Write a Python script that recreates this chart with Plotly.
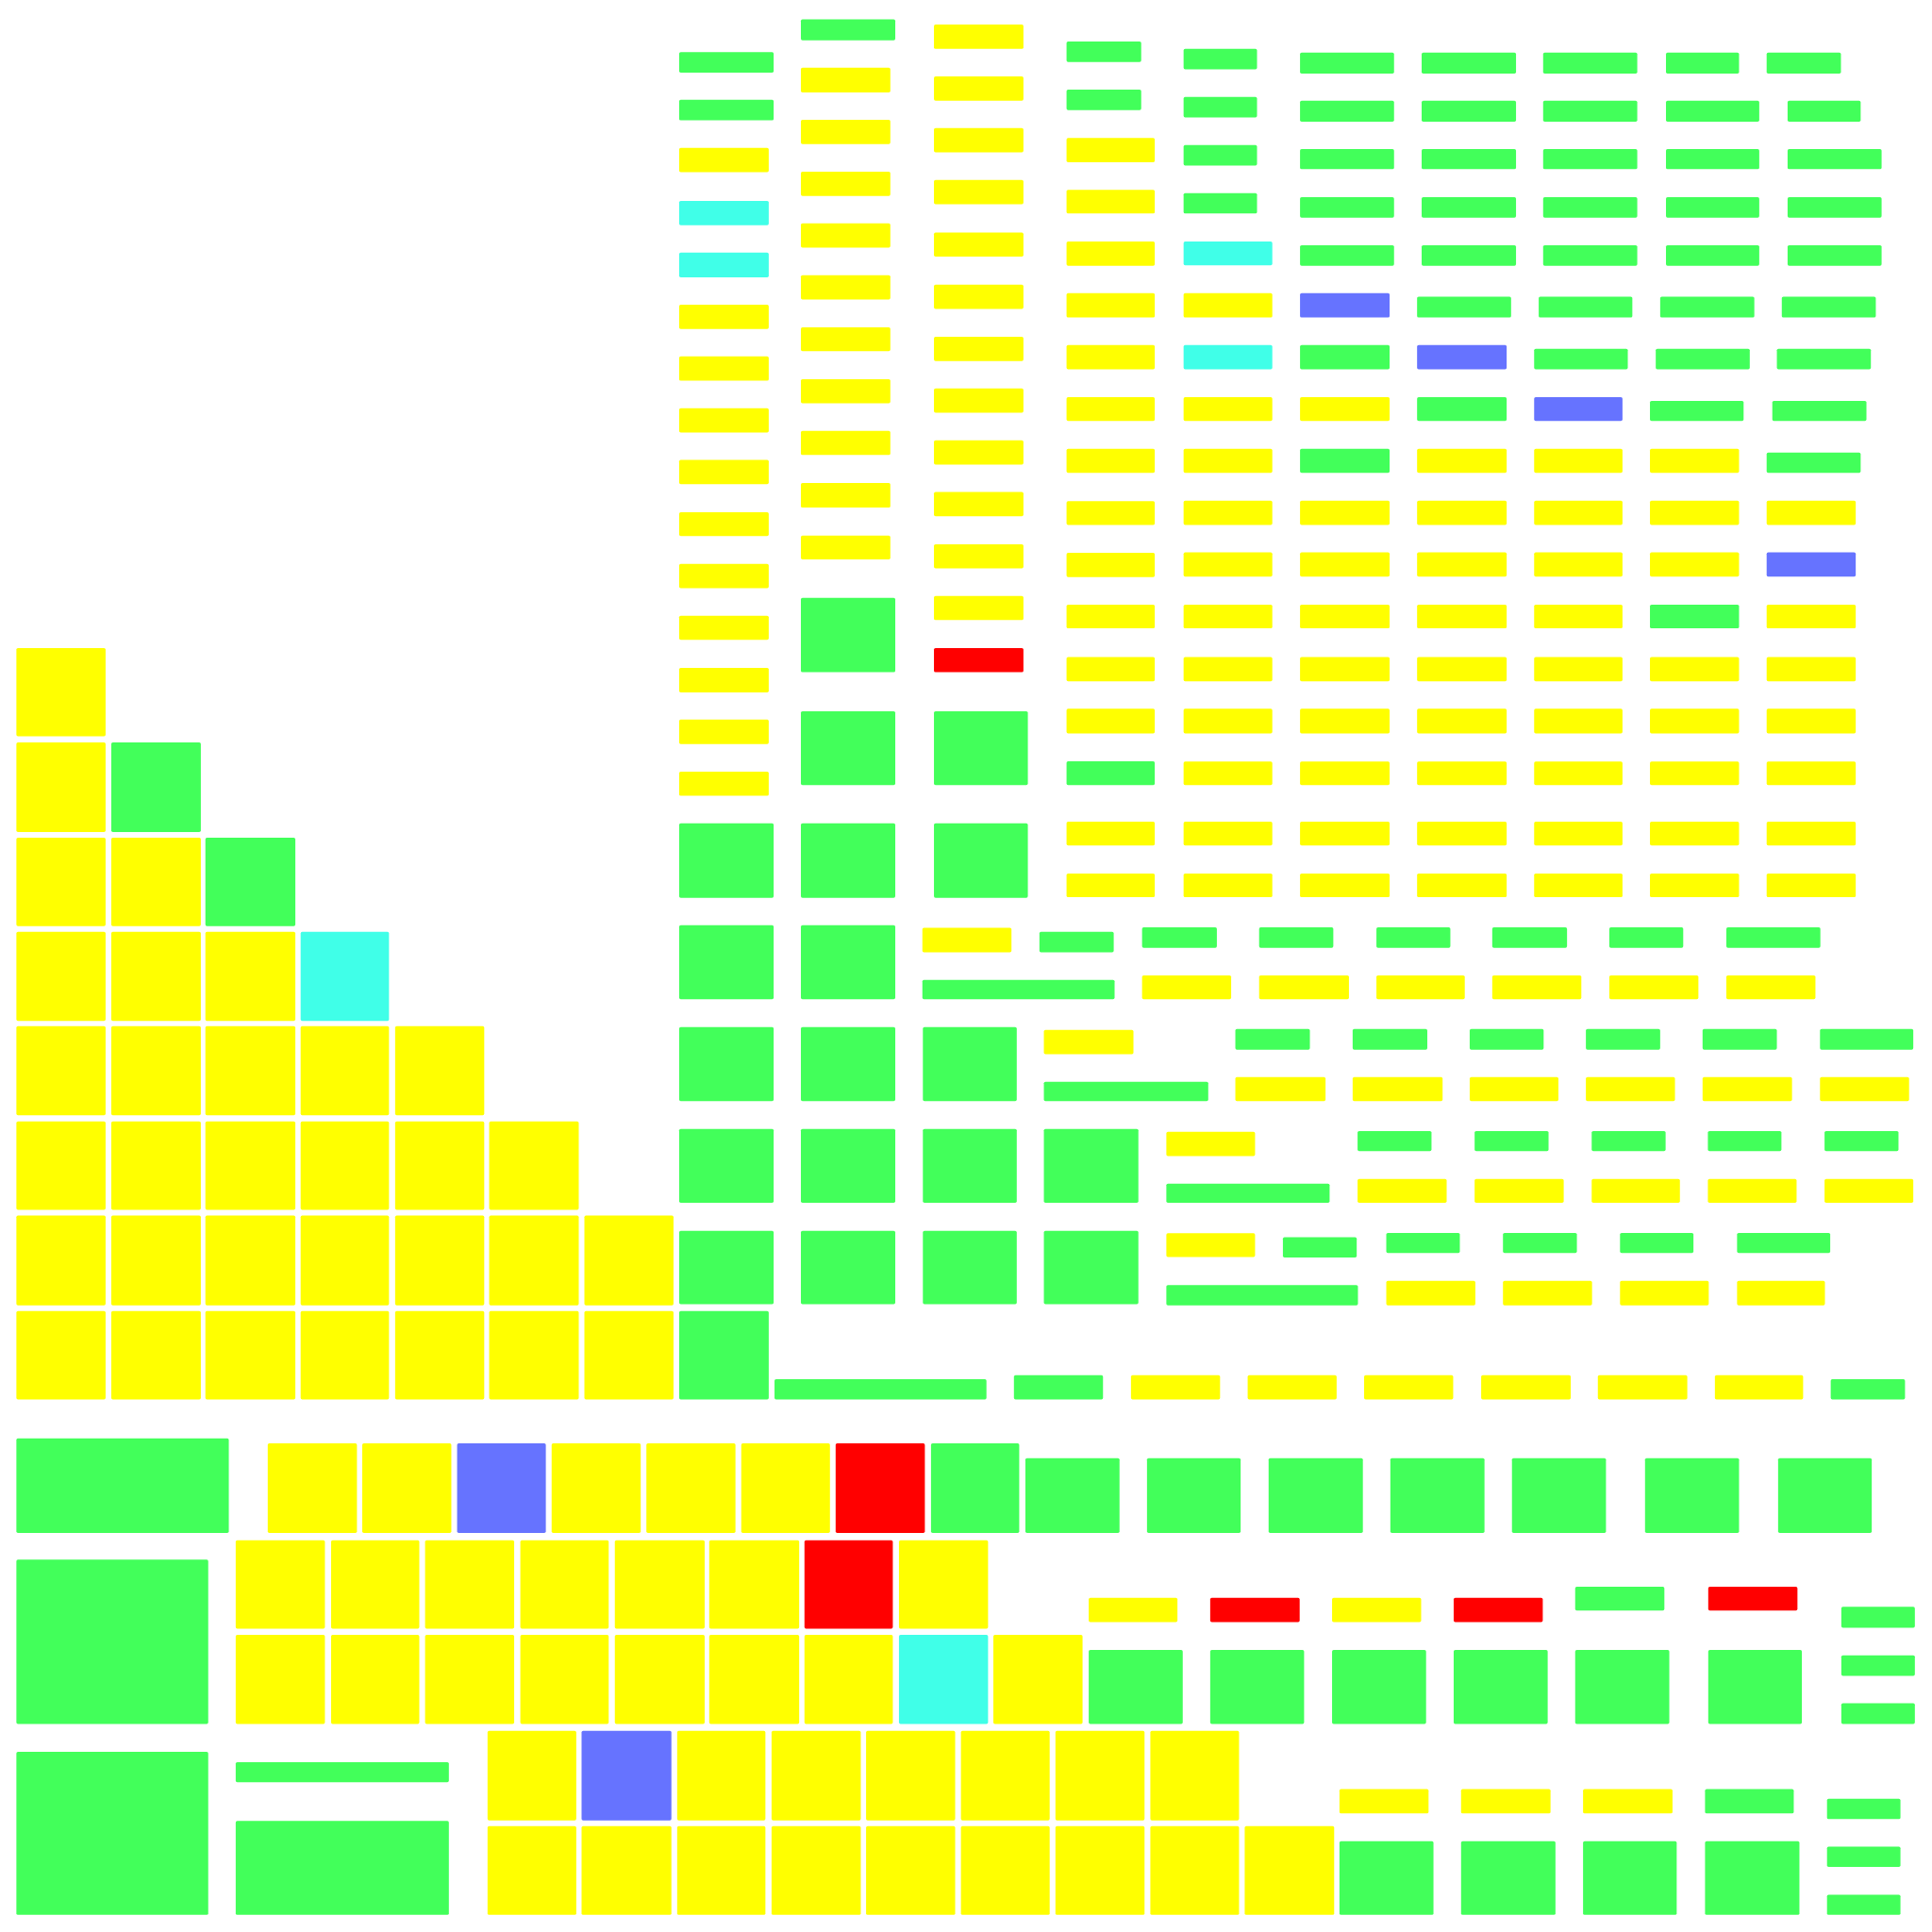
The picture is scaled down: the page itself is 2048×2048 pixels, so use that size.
import plotly.graph_objects as go

# colour categories
COLORS = {'Y': '#ffff00', 'G': '#42ff5a', 'C': '#40ffe8', 'B': '#6673ff', 'R': '#ff0000'}

# ---------- top region: columns of bars (x0, x1, y0, y1, category) ----------
top_col1 = [(551.2, 627.9, 42.3, 59.0, 'G'), (551.2, 627.9, 81.0, 97.7, 'G'),
            (551.2, 623.9, 120.0, 139.7, 'Y'), (551.2, 623.9, 163.0, 182.7, 'C'),
            (551.2, 623.9, 205.0, 225.0, 'C'), (551.2, 623.9, 247.3, 267.0, 'Y'),
            (551.2, 623.9, 289.3, 309.0, 'Y'), (551.2, 623.9, 331.3, 351.0, 'Y'),
            (551.2, 623.9, 373.3, 393.0, 'Y'), (551.2, 623.9, 415.7, 435.0, 'Y'),
            (551.2, 623.9, 457.7, 477.3, 'Y'), (551.2, 623.9, 499.7, 519.3, 'Y'),
            (551.2, 623.9, 542.0, 561.9, 'Y'), (551.2, 623.9, 584.0, 603.9, 'Y'),
            (551.2, 623.9, 626.2, 645.9, 'Y')]

top_col2 = [(650.0, 726.6, 15.7, 32.7, 'G'),
            (650.0, 722.6, 55.0, 75.0, 'Y'), (650.0, 722.6, 97.3, 117.0, 'Y'),
            (650.0, 722.6, 139.3, 159.0, 'Y'), (650.0, 722.6, 181.3, 201.0, 'Y'),
            (650.0, 722.6, 223.3, 243.0, 'Y'), (650.0, 722.6, 265.7, 285.0, 'Y'),
            (650.0, 722.6, 307.7, 327.3, 'Y'), (650.0, 722.6, 349.7, 369.3, 'Y'),
            (650.0, 722.6, 392.0, 412.0, 'Y'), (650.0, 722.6, 434.7, 454.0, 'Y'),
            (650.0, 726.6, 485.3, 545.6, 'G')]

top_col3 = [(758.0, 830.6, 20.0, 39.7, 'Y'), (758.0, 830.6, 62.0, 81.7, 'Y'),
            (758.0, 830.6, 104.0, 123.7, 'Y'), (758.0, 830.6, 146.0, 165.7, 'Y'),
            (758.0, 830.6, 188.7, 208.3, 'Y'), (758.0, 830.6, 231.0, 250.7, 'Y'),
            (758.0, 830.6, 273.3, 293.0, 'Y'), (758.0, 830.6, 315.3, 335.0, 'Y'),
            (758.0, 830.6, 357.3, 377.0, 'Y'), (758.0, 830.6, 399.3, 419.0, 'Y'),
            (758.0, 830.6, 441.7, 461.3, 'Y'), (758.0, 830.6, 483.7, 503.3, 'Y'),
            (758.0, 830.6, 525.9, 545.6, 'R')]

top_col4 = [(865.6, 926.2, 33.7, 50.3, 'G'), (865.6, 926.2, 72.7, 89.3, 'G'),
            (865.6, 937.2, 112.0, 131.7, 'Y'), (865.6, 937.2, 154.0, 173.3, 'Y'),
            (865.6, 937.2, 196.0, 215.7, 'Y'), (865.6, 937.2, 238.0, 257.7, 'Y'),
            (865.6, 937.2, 280.0, 299.7, 'Y'), (865.6, 937.2, 322.3, 341.7, 'Y'),
            (865.6, 937.2, 364.3, 383.7, 'Y'), (865.6, 937.2, 406.7, 426.0, 'Y'),
            (865.6, 937.2, 448.7, 468.3, 'Y'), (865.6, 937.2, 490.7, 510.0, 'Y'),
            (865.6, 937.2, 533.2, 552.9, 'Y'), (865.6, 937.2, 575.2, 595.2, 'Y'),
            (865.6, 937.2, 617.9, 637.2, 'G'), (865.6, 937.2, 666.9, 686.2, 'Y'),
            (865.6, 937.2, 708.9, 728.2, 'Y')]

top_col5 = [(960.6, 1020.2, 39.7, 56.3, 'G'), (960.6, 1020.2, 78.7, 95.3, 'G'),
            (960.6, 1020.2, 117.7, 134.3, 'G'), (960.6, 1020.2, 156.7, 173.3, 'G'),
            (960.6, 1032.6, 196.0, 215.3, 'C'), (960.6, 1032.6, 238.0, 257.7, 'Y'),
            (960.6, 1032.6, 280.0, 299.7, 'C'), (960.6, 1032.6, 322.3, 341.7, 'Y'),
            (960.6, 1032.6, 364.3, 383.7, 'Y'), (960.6, 1032.6, 406.3, 426.0, 'Y'),
            (960.6, 1032.6, 448.3, 468.0, 'Y'), (960.6, 1032.6, 490.7, 510.0, 'Y'),
            (960.6, 1032.6, 533.2, 552.9, 'Y'), (960.6, 1032.6, 575.2, 595.2, 'Y'),
            (960.6, 1032.6, 618.0, 637.2, 'Y'), (960.6, 1032.6, 666.9, 686.2, 'Y'),
            (960.6, 1032.6, 708.9, 728.2, 'Y')]

top_col6 = [(1055.1, 1131.4, 42.7, 59.7, 'G'), (1055.1, 1131.4, 81.7, 98.7, 'G'),
            (1055.1, 1131.4, 121.0, 137.3, 'G'), (1055.1, 1131.4, 160.0, 176.7, 'G'),
            (1055.1, 1131.4, 199.0, 215.7, 'G'), (1055.1, 1127.8, 238.0, 257.7, 'B'),
            (1055.1, 1127.8, 280.0, 299.7, 'G'), (1055.1, 1127.8, 322.3, 341.7, 'Y'),
            (1055.1, 1127.8, 364.3, 383.7, 'G'), (1055.1, 1127.8, 406.3, 426.0, 'Y'),
            (1055.1, 1127.8, 448.3, 468.0, 'Y'), (1055.1, 1127.8, 490.7, 510.0, 'Y'),
            (1055.1, 1127.8, 533.2, 552.9, 'Y'), (1055.1, 1127.8, 575.2, 595.2, 'Y'),
            (1055.1, 1127.8, 618.0, 637.2, 'Y'), (1055.1, 1127.8, 666.9, 686.2, 'Y'),
            (1055.1, 1127.8, 708.9, 728.2, 'Y')]

top_col7 = [(1153.8, 1230.4, 42.7, 59.7, 'G'), (1153.8, 1230.4, 81.7, 98.7, 'G'),
            (1153.8, 1230.4, 121.0, 137.3, 'G'), (1153.8, 1230.4, 160.0, 176.7, 'G'),
            (1153.8, 1230.4, 199.0, 215.7, 'G'), (1150.1, 1226.4, 240.7, 257.7, 'G'),
            (1150.1, 1222.8, 280.0, 299.7, 'B'), (1150.1, 1222.8, 322.3, 341.7, 'G'),
            (1150.1, 1222.8, 364.3, 383.7, 'Y'), (1150.1, 1222.8, 406.3, 426.0, 'Y'),
            (1150.1, 1222.8, 448.3, 468.0, 'Y'), (1150.1, 1222.8, 490.7, 510.0, 'Y'),
            (1150.1, 1222.8, 533.2, 552.9, 'Y'), (1150.1, 1222.8, 575.2, 595.2, 'Y'),
            (1150.1, 1222.8, 618.0, 637.2, 'Y'), (1150.1, 1222.8, 666.9, 686.2, 'Y'),
            (1150.1, 1222.8, 708.9, 728.2, 'Y')]

top_col8 = [(1252.4, 1328.8, 42.7, 59.7, 'G'), (1252.4, 1328.8, 81.7, 98.7, 'G'),
            (1252.4, 1328.8, 121.0, 137.3, 'G'), (1252.4, 1328.8, 160.0, 176.7, 'G'),
            (1252.4, 1328.8, 199.0, 215.7, 'G'), (1248.8, 1324.8, 240.7, 257.7, 'G'),
            (1245.1, 1321.1, 283.0, 299.7, 'G'), (1245.1, 1316.8, 322.3, 341.7, 'B'),
            (1245.1, 1316.8, 364.3, 383.7, 'Y'), (1245.1, 1316.8, 406.3, 426.0, 'Y'),
            (1245.1, 1316.8, 448.3, 468.0, 'Y'), (1245.1, 1316.8, 490.7, 510.0, 'Y'),
            (1245.1, 1316.8, 533.2, 552.9, 'Y'), (1245.1, 1316.8, 575.2, 595.2, 'Y'),
            (1245.1, 1316.8, 618.0, 637.2, 'Y'), (1245.1, 1316.8, 666.9, 686.2, 'Y'),
            (1245.1, 1316.8, 708.9, 728.2, 'Y')]

top_col9 = [(1352.1, 1411.4, 42.7, 59.7, 'G'), (1352.1, 1427.8, 81.7, 98.7, 'G'),
            (1352.1, 1427.8, 121.0, 137.3, 'G'), (1352.1, 1427.8, 160.0, 176.7, 'G'),
            (1352.1, 1427.8, 199.0, 215.7, 'G'), (1347.4, 1423.8, 240.7, 257.7, 'G'),
            (1343.8, 1420.1, 283.0, 299.7, 'G'), (1339.1, 1415.1, 325.3, 341.7, 'G'),
            (1339.1, 1411.4, 364.3, 383.7, 'Y'), (1339.1, 1411.4, 406.3, 426.0, 'Y'),
            (1339.1, 1411.4, 448.3, 468.0, 'Y'), (1339.1, 1411.4, 490.7, 510.0, 'G'),
            (1339.1, 1411.4, 533.2, 552.9, 'Y'), (1339.1, 1411.4, 575.2, 595.2, 'Y'),
            (1339.1, 1411.4, 618.0, 637.2, 'Y'), (1339.1, 1411.4, 666.9, 686.2, 'Y'),
            (1339.1, 1411.4, 708.9, 728.2, 'Y')]

top_col10 = [(1433.8, 1494.1, 42.7, 59.7, 'G'), (1450.8, 1510.1, 81.7, 98.7, 'G'),
             (1450.8, 1527.1, 121.0, 137.3, 'G'), (1450.8, 1527.1, 160.0, 176.7, 'G'),
             (1450.8, 1527.1, 199.0, 215.7, 'G'), (1446.1, 1522.4, 240.7, 257.7, 'G'),
             (1442.1, 1518.4, 283.0, 299.7, 'G'), (1438.4, 1514.8, 325.3, 341.7, 'G'),
             (1433.8, 1510.1, 367.3, 383.7, 'G'), (1433.8, 1506.1, 406.3, 426.0, 'Y'),
             (1433.8, 1506.1, 448.3, 468.0, 'B'), (1433.8, 1506.1, 490.7, 510.0, 'Y'),
             (1433.8, 1506.1, 533.2, 552.9, 'Y'), (1433.8, 1506.1, 575.2, 595.2, 'Y'),
             (1433.8, 1506.1, 618.0, 637.2, 'Y'), (1433.8, 1506.1, 666.9, 686.2, 'Y'),
             (1433.8, 1506.1, 708.9, 728.2, 'Y')]

# ---------- middle: green squares column stack ----------
mid_squares = [(758.0, 834.2, 577.2, 637.2, 'G'), (650.0, 726.6, 577.2, 637.2, 'G'),
               (551.2, 627.9, 668.2, 728.6, 'G'), (650.0, 726.6, 668.2, 728.6, 'G'),
               (758.0, 834.2, 668.2, 728.6, 'G'),
               (551.2, 627.9, 750.9, 810.9, 'G'), (650.0, 726.6, 750.9, 810.9, 'G'),
               (551.2, 627.9, 833.6, 893.6, 'G'), (650.0, 726.6, 833.6, 893.6, 'G'),
               (749.0, 825.2, 833.6, 893.6, 'G'),
               (551.2, 627.9, 916.2, 976.2, 'G'), (650.0, 726.6, 916.2, 976.2, 'G'),
               (749.0, 825.2, 916.2, 976.2, 'G'), (847.2, 923.9, 916.2, 976.2, 'G'),
               (551.2, 627.9, 998.9, 1058.4, 'G'), (650.0, 726.6, 998.9, 1058.4, 'G'),
               (749.0, 825.2, 998.9, 1058.4, 'G'), (847.2, 923.9, 998.9, 1058.4, 'G'),
               (551.2, 623.9, 1064.1, 1135.8, 'G')]

mid_rows1 = [(748.6, 820.9, 752.9, 772.9, 'Y'), (843.6, 903.9, 756.2, 772.9, 'G'),
             (748.6, 904.6, 795.2, 810.9, 'G'),
             (926.9, 987.6, 752.6, 769.2, 'G'), (926.9, 999.2, 791.6, 810.9, 'Y'),
             (1021.9, 1082.1, 752.6, 769.2, 'G'), (1021.9, 1094.8, 791.6, 810.9, 'Y'),
             (1117.1, 1177.1, 752.6, 769.2, 'G'), (1117.1, 1188.8, 791.6, 810.9, 'Y'),
             (1211.1, 1271.8, 752.6, 769.2, 'G'), (1211.1, 1283.4, 791.6, 810.9, 'Y'),
             (1306.1, 1366.1, 752.6, 769.2, 'G'), (1306.1, 1378.4, 791.6, 810.9, 'Y'),
             (1401.1, 1477.4, 752.6, 769.2, 'G'), (1401.1, 1473.4, 791.6, 810.9, 'Y')]

mid_rows2 = [(847.2, 919.9, 835.9, 855.6, 'Y'), (847.2, 980.6, 877.9, 893.6, 'G'),
             (1002.6, 1063.1, 835.2, 851.9, 'G'), (1002.6, 1075.8, 874.2, 893.6, 'Y'),
             (1097.8, 1158.4, 835.2, 851.9, 'G'), (1097.8, 1170.8, 874.2, 893.6, 'Y'),
             (1192.8, 1252.8, 835.2, 851.9, 'G'), (1192.8, 1264.8, 874.2, 893.6, 'Y'),
             (1287.1, 1347.4, 835.2, 851.9, 'G'), (1287.1, 1359.4, 874.2, 893.6, 'Y'),
             (1381.8, 1442.1, 835.2, 851.9, 'G'), (1381.8, 1454.4, 874.2, 893.6, 'Y'),
             (1477.1, 1552.8, 835.2, 851.9, 'G'), (1477.1, 1549.4, 874.2, 893.6, 'Y')]

mid_rows3 = [(946.6, 1018.6, 918.6, 938.2, 'Y'), (946.6, 1079.1, 960.6, 976.2, 'G'),
             (1101.8, 1161.8, 917.9, 934.2, 'G'), (1101.8, 1174.1, 956.9, 976.2, 'Y'),
             (1196.8, 1256.8, 917.9, 934.2, 'G'), (1196.8, 1269.1, 956.9, 976.2, 'Y'),
             (1291.8, 1351.8, 917.9, 934.2, 'G'), (1291.8, 1363.4, 956.9, 976.2, 'Y'),
             (1386.1, 1445.8, 917.9, 934.2, 'G'), (1386.1, 1458.1, 956.9, 976.2, 'Y'),
             (1480.8, 1540.8, 917.9, 934.2, 'G'), (1480.8, 1552.8, 956.9, 976.2, 'Y')]

mid_rows4 = [(946.6, 1018.6, 1000.9, 1020.2, 'Y'), (1041.2, 1101.1, 1004.2, 1020.6, 'G'),
             (946.6, 1102.1, 1042.9, 1059.4, 'G'),
             (1125.1, 1184.8, 1000.6, 1016.9, 'G'), (1125.1, 1197.4, 1039.6, 1059.4, 'Y'),
             (1219.8, 1279.8, 1000.6, 1016.9, 'G'), (1219.8, 1292.1, 1039.6, 1059.4, 'Y'),
             (1314.8, 1374.4, 1000.6, 1016.9, 'G'), (1314.8, 1386.8, 1039.6, 1059.4, 'Y'),
             (1409.8, 1485.4, 1000.6, 1016.9, 'G'), (1409.8, 1481.1, 1039.6, 1059.4, 'Y')]

mid_rows5 = [(628.6, 800.6, 1119.4, 1135.8, 'G'), (822.9, 895.2, 1116.1, 1135.8, 'G'),
             (917.9, 990.2, 1116.1, 1135.8, 'Y'), (1012.6, 1084.8, 1116.1, 1135.8, 'Y'),
             (1107.1, 1179.4, 1116.1, 1135.8, 'Y'), (1202.1, 1274.8, 1116.1, 1135.8, 'Y'),
             (1296.8, 1369.4, 1116.1, 1135.8, 'Y'), (1391.8, 1463.4, 1116.1, 1135.8, 'Y'),
             (1485.8, 1546.1, 1119.4, 1135.8, 'G')]

# ---------- left staircase ----------
stair_x = [(13.3, 85.7), (90.3, 163.0), (166.7, 239.7), (244.0, 315.7),
           (320.7, 393.0), (397.0, 469.7), (474.3, 546.6)]
stair_y = [(525.9, 597.6), (602.6, 675.2), (679.9, 751.6), (756.2, 828.6),
           (832.9, 905.2), (910.2, 981.9), (986.6, 1059.4), (1064.1, 1135.8)]
stair_cat = ['Y', 'YG', 'YYG', 'YYYC', 'YYYYY', 'YYYYYY', 'YYYYYYY', 'YYYYYYY']

# ---------- bottom region ----------
bottom_big = [(13.3, 185.7, 1167.4, 1244.1, 'G'), (13.3, 169.0, 1265.8, 1399.1, 'G'),
              (13.3, 169.0, 1421.8, 1554.1, 'G'),
              (191.3, 364.3, 1430.1, 1446.4, 'G'), (191.3, 364.3, 1477.8, 1554.1, 'G')]

row_c1_x = [(217.3, 289.7), (294.0, 366.3), (371.0, 443.0), (447.7, 520.0),
            (524.6, 596.9), (601.6, 673.6), (678.2, 750.6), (755.6, 827.2)]
row_c1_y = (1171.4, 1244.1)
row_c1_cat = 'YYBYYYRG'

row_c1_green_x = [(832.2, 908.6), (930.9, 1006.9), (1029.6, 1106.1), (1128.4, 1204.8),
                  (1227.1, 1303.4), (1335.1, 1411.4), (1443.1, 1519.1)]
row_c1_green_y = (1183.4, 1244.1)

row_c23_x = [(191.3, 263.7), (268.7, 340.3), (345.0, 417.3), (422.3, 494.0),
             (499.0, 571.9), (575.6, 648.6), (652.9, 724.6), (729.6, 801.9), (806.2, 878.6)]
row_c2_y = (1250.1, 1321.8)
row_c2_cat = 'YYYYYYRY'
row_c3_y = (1326.8, 1399.1)
row_c3_cat = 'YYYYYYYCY'

row_c3_green_x = [(883.6, 959.9), (982.2, 1058.4), (1081.1, 1157.4), (1179.8, 1256.1),
                  (1278.4, 1354.8), (1386.4, 1462.4)]
row_c3_green_y = (1339.1, 1399.1)
row_c3_bars = [(883.6, 955.6, 1296.8, 1316.4, 'Y'), (982.2, 1054.8, 1296.8, 1316.4, 'R'),
               (1081.1, 1153.4, 1296.8, 1316.4, 'Y'), (1179.8, 1252.1, 1296.8, 1316.4, 'R'),
               (1278.4, 1350.8, 1287.8, 1307.1, 'G'), (1386.4, 1458.8, 1287.8, 1307.1, 'R'),
               (1494.4, 1554.1, 1304.1, 1321.1, 'G'), (1494.4, 1554.1, 1343.4, 1360.1, 'G'),
               (1494.4, 1554.1, 1382.4, 1399.1, 'G')]

row_d_x = [(395.7, 467.7), (472.0, 544.9), (549.6, 621.2), (626.2, 698.6), (702.9, 775.2),
           (779.9, 851.9), (856.6, 928.9), (933.6, 1005.6), (1010.2, 1082.8)]
row_d1_y = (1404.8, 1477.4)
row_d1_cat = 'YBYYYYYY'
row_d2_y = (1482.1, 1554.1)
row_d2_cat = 'YYYYYYYYY'

row_d_green_x = [(1087.1, 1163.4), (1185.8, 1262.4), (1284.8, 1360.8), (1383.8, 1460.4)]
row_d_green_y = (1494.4, 1554.1)
row_d_bars = [(1087.1, 1159.4, 1452.1, 1471.8, 'Y'), (1185.8, 1258.4, 1452.1, 1471.8, 'Y'),
              (1284.8, 1357.4, 1452.1, 1471.8, 'Y'), (1383.8, 1455.8, 1452.1, 1471.8, 'G'),
              (1482.8, 1542.4, 1459.8, 1476.4, 'G'), (1482.8, 1542.4, 1498.8, 1515.1, 'G'),
              (1482.8, 1542.4, 1537.8, 1554.1, 'G')]

# ---------- assemble ----------
rects = []
for col in (top_col1, top_col2, top_col3, top_col4, top_col5, top_col6, top_col7,
            top_col8, top_col9, top_col10, mid_squares, mid_rows1, mid_rows2,
            mid_rows3, mid_rows4, mid_rows5, bottom_big, row_c3_bars, row_d_bars):
    rects.extend(col)
for (y0, y1), cats in zip(stair_y, stair_cat):
    for (x0, x1), c in zip(stair_x, cats):
        rects.append((x0, x1, y0, y1, c))
for (x0, x1), c in zip(row_c1_x, row_c1_cat):
    rects.append((x0, x1, row_c1_y[0], row_c1_y[1], c))
for x0, x1 in row_c1_green_x:
    rects.append((x0, x1, row_c1_green_y[0], row_c1_green_y[1], 'G'))
for (x0, x1), c in zip(row_c23_x, row_c2_cat):
    rects.append((x0, x1, row_c2_y[0], row_c2_y[1], c))
for (x0, x1), c in zip(row_c23_x, row_c3_cat):
    rects.append((x0, x1, row_c3_y[0], row_c3_y[1], c))
for x0, x1 in row_c3_green_x:
    rects.append((x0, x1, row_c3_green_y[0], row_c3_green_y[1], 'G'))
for (x0, x1), c in zip(row_d_x, row_d1_cat):
    rects.append((x0, x1, row_d1_y[0], row_d1_y[1], c))
for (x0, x1), c in zip(row_d_x, row_d2_cat):
    rects.append((x0, x1, row_d2_y[0], row_d2_y[1], c))
for x0, x1 in row_d_green_x:
    rects.append((x0, x1, row_d_green_y[0], row_d_green_y[1], 'G'))


def rounded(x0, x1, y0, y1, r=1.3):
    return (f"M {x0 + r},{y0} L {x1 - r},{y0} Q {x1},{y0} {x1},{y0 + r} "
            f"L {x1},{y1 - r} Q {x1},{y1} {x1 - r},{y1} L {x0 + r},{y1} "
            f"Q {x0},{y1} {x0},{y1 - r} L {x0},{y0 + r} Q {x0},{y0} {x0 + r},{y0} Z")


shapes = [dict(type='path', xref='x', yref='y', path=rounded(x0, x1, y0, y1),
               fillcolor=COLORS[c], line=dict(width=0), layer='above')
          for x0, x1, y0, y1, c in rects]

fig = go.Figure()
fig.add_trace(go.Scatter(x=[0, 1568], y=[0, 1568], mode='markers',
                         marker=dict(opacity=0), hoverinfo='skip', showlegend=False))
fig.update_layout(
    width=2048, height=2048,
    margin=dict(l=0, r=0, t=0, b=0),
    paper_bgcolor='white', plot_bgcolor='white',
    xaxis=dict(range=[0, 1568], visible=False, fixedrange=True),
    yaxis=dict(range=[1568, 0], visible=False, fixedrange=True),
    shapes=shapes,
    showlegend=False,
)
fig.write_html("out.html")
